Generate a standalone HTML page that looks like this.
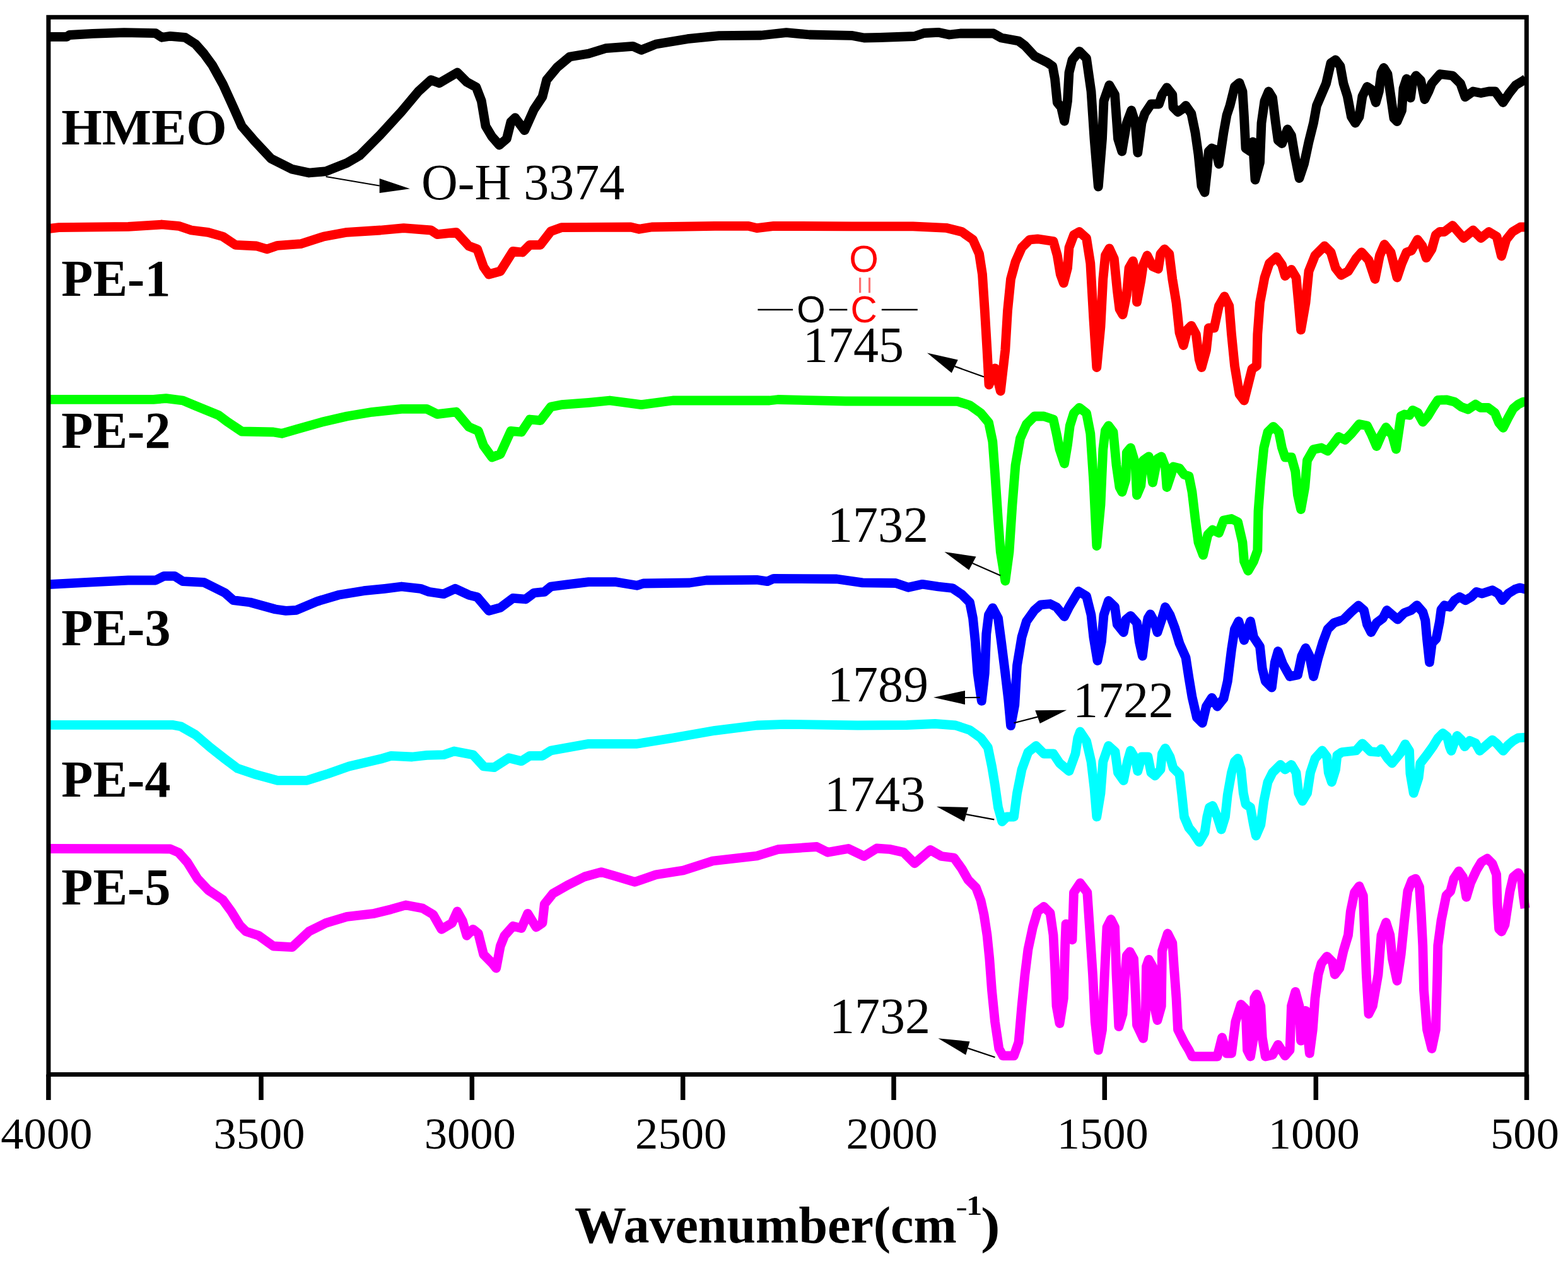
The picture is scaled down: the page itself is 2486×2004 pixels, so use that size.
<!DOCTYPE html>
<html><head><meta charset="utf-8"><title>FTIR spectra</title>
<style>
html,body{margin:0;padding:0;background:#fff;}
svg{display:block;}
text{font-family:'Liberation Serif','Times New Roman',serif;}
</style></head><body>
<svg width="2486" height="2004" viewBox="0 0 2486 2004">
<rect x="0" y="0" width="2486" height="2004" fill="#fff"/>

<g fill="none" stroke-width="14.8" stroke-linejoin="round" stroke-linecap="butt">
<polyline stroke="#000" points="77.0,58.3 106.0,58.3 110.0,55.5 146.7,53.3 196.7,51.7 246.7,52.7 256.7,59.3 270.0,57.3 293.3,59.3 310.0,70.0 323.3,85.0 336.7,103.3 353.3,133.3 370.0,170.0 383.3,200.0 403.3,223.3 430.0,251.7 463.3,268.3 490.0,274.0 516.7,271.7 550.0,258.3 570.0,246.7 603.3,213.3 636.7,176.7 663.3,145.0 683.3,126.7 696.7,131.7 725.0,115.0 740.0,130.0 755.0,138.3 763.3,160.0 770.0,200.0 780.0,216.7 791.7,230.0 803.3,220.0 810.0,193.3 816.7,186.7 831.7,206.7 846.7,173.3 860.0,153.3 866.7,126.7 883.3,106.7 903.3,90.0 933.3,85.0 960.0,76.7 1003.3,73.3 1016.7,79.3 1040.0,70.0 1090.0,61.7 1140.0,56.7 1206.7,56.0 1246.7,51.7 1283.3,55.0 1350.0,56.3 1370.0,60.0 1395.0,59.5 1450.0,57.5 1465.0,52.5 1487.5,51.3 1505.0,55.0 1522.5,53.0 1575.0,53.0 1587.5,60.0 1615.0,65.0 1625.0,72.5 1640.0,88.8 1660.0,98.8 1668.8,105.0 1672.5,125.0 1676.3,162.5 1682.5,170.0 1687.5,192.0 1692.5,160.0 1695.0,115.0 1700.0,95.0 1711.3,81.3 1722.5,92.5 1730.0,145.0 1735.0,220.0 1741.3,296.0 1747.5,220.0 1750.0,160.0 1758.8,135.0 1767.5,150.0 1772.5,220.0 1778.8,240.0 1786.3,195.0 1793.8,175.0 1800.0,195.0 1803.8,242.0 1810.0,195.0 1815.0,180.0 1825.0,165.0 1837.5,165.0 1842.5,150.0 1850.0,138.8 1858.8,150.0 1860.0,170.0 1867.5,177.5 1875.0,172.5 1880.0,167.5 1888.8,180.0 1895.0,210.0 1900.0,245.0 1905.0,295.0 1910.0,305.0 1913.8,270.0 1916.3,240.0 1921.3,235.0 1927.5,237.5 1932.5,260.0 1936.3,235.0 1940.0,210.0 1945.0,182.5 1950.0,167.5 1957.5,137.5 1965.0,131.3 1970.0,145.0 1972.5,185.0 1975.0,235.0 1982.5,240.0 1986.3,225.0 1990.0,285.0 1997.5,257.5 2000.0,195.0 2005.0,160.0 2011.3,145.0 2017.5,155.0 2022.5,195.0 2026.3,222.5 2032.5,227.5 2041.3,205.0 2047.5,215.0 2052.5,245.0 2060.0,282.5 2067.5,260.0 2075.0,225.0 2082.5,195.0 2087.5,167.5 2095.0,150.0 2102.5,132.5 2110.0,100.0 2117.5,95.0 2125.0,105.0 2130.0,132.5 2136.3,152.5 2142.5,185.0 2148.8,195.0 2155.0,185.0 2160.0,152.5 2167.5,137.5 2175.0,142.5 2181.3,162.5 2186.3,145.0 2190.0,115.0 2193.8,107.5 2200.0,117.5 2205.0,152.5 2210.0,187.5 2215.0,192.5 2222.5,175.0 2225.0,140.0 2230.0,125.0 2236.3,155.0 2240.0,127.5 2245.0,120.0 2252.5,127.5 2258.8,157.5 2265.0,145.0 2270.0,132.5 2283.0,117.5 2303.0,120.0 2315.5,132.5 2323.0,153.8 2335.5,145.0 2348.0,147.5 2360.5,145.0 2370.5,145.0 2383.0,162.5 2393.0,147.5 2403.0,135.0 2415.5,127.5 2419.0,125.0"/>
<polyline stroke="#ff0000" points="76.7,362.7 93.3,360.7 203.3,359.3 256.7,356.0 283.3,358.3 303.3,365.0 330.0,368.3 353.3,375.0 373.3,388.3 406.7,390.0 423.3,395.0 440.0,389.3 476.7,386.7 513.3,375.0 550.0,368.3 603.3,365.0 640.0,361.7 683.3,365.0 693.3,371.7 723.3,368.3 743.3,390.0 756.7,395.0 766.7,423.3 775.0,435.0 793.3,430.0 813.3,398.3 828.3,400.0 840.0,388.3 856.7,388.3 873.3,366.7 890.0,360.7 1000.0,360.0 1013.3,363.3 1033.3,360.0 1133.3,358.3 1186.7,358.3 1200.0,361.7 1226.7,358.3 1350.0,358.8 1447.5,358.8 1500.0,361.3 1525.0,367.5 1542.5,380.0 1552.5,402.5 1557.5,435.0 1561.3,492.5 1565.0,555.0 1568.0,610.0 1577.5,584.0 1586.3,620.0 1593.8,555.0 1597.5,492.5 1602.5,442.5 1610.0,415.0 1620.0,392.5 1632.5,380.0 1645.0,378.8 1670.0,382.5 1676.3,405.0 1681.3,435.0 1686.3,448.8 1692.5,425.0 1695.0,392.5 1702.5,372.5 1711.3,367.5 1722.5,377.5 1728.8,417.5 1733.8,505.0 1738.8,582.5 1745.0,517.5 1748.8,442.5 1752.5,405.0 1758.8,393.8 1766.3,410.0 1771.3,460.0 1775.0,490.0 1780.0,498.8 1786.3,467.5 1790.0,425.0 1796.3,413.8 1801.3,442.5 1802.5,478.8 1808.8,445.0 1812.5,420.0 1818.8,405.0 1827.5,422.5 1836.3,426.3 1840.0,402.5 1846.3,395.0 1853.8,402.5 1858.8,442.5 1865.0,480.0 1870.0,527.5 1876.3,547.5 1882.5,522.5 1888.8,516.3 1896.3,530.0 1901.3,570.0 1905.0,582.5 1912.5,555.0 1916.3,520.0 1925.0,520.0 1932.5,485.0 1941.3,470.0 1948.8,485.0 1952.5,530.0 1957.5,580.0 1965.0,625.0 1972.5,635.0 1980.0,605.0 1985.0,585.0 1992.5,580.0 1993.8,530.0 1997.5,480.0 2005.0,440.0 2012.5,417.5 2023.8,407.5 2032.5,420.0 2037.5,437.5 2047.5,427.5 2055.0,440.0 2058.8,480.0 2062.5,523.0 2070.0,480.0 2075.0,430.0 2085.0,405.0 2100.0,390.0 2110.0,400.0 2117.5,425.0 2126.3,436.3 2137.5,430.0 2150.0,410.0 2158.8,400.0 2170.0,412.5 2180.0,442.5 2187.5,405.0 2195.0,387.5 2205.0,400.0 2215.0,440.0 2222.5,417.5 2230.0,400.0 2237.5,397.5 2247.5,380.0 2255.0,390.0 2261.3,408.8 2270.0,395.0 2276.3,372.5 2282.5,367.5 2290.0,367.5 2303.0,357.5 2320.5,377.5 2335.5,365.0 2348.0,377.5 2360.5,367.5 2373.0,375.0 2380.5,406.0 2388.0,380.0 2398.0,367.5 2410.5,360.0 2419.0,360.0"/>
<polyline stroke="#00ff00" points="76.7,633.3 243.3,633.3 263.3,631.7 290.0,635.0 310.0,643.3 346.7,658.3 360.0,668.3 383.3,684.0 433.3,685.0 446.7,687.3 470.0,680.7 510.0,669.3 550.0,660.0 590.0,653.3 636.7,648.3 676.7,648.3 693.3,656.7 723.3,653.0 743.3,676.7 758.3,683.3 766.7,706.7 780.0,725.0 793.3,720.0 810.0,683.3 826.7,685.0 840.0,665.0 856.7,666.7 873.3,645.0 890.0,641.7 933.3,638.3 966.7,635.0 1016.7,641.7 1066.7,635.0 1220.0,635.0 1233.3,633.5 1340.0,636.0 1517.5,636.3 1537.5,642.5 1555.0,655.0 1567.5,670.0 1573.8,700.0 1577.5,750.0 1582.5,825.0 1586.3,875.0 1593.8,921.0 1600.0,875.0 1605.0,800.0 1610.0,737.5 1617.5,695.0 1627.5,672.5 1640.0,660.0 1655.0,660.0 1670.0,665.0 1675.0,687.5 1680.0,712.5 1687.5,735.0 1692.5,705.0 1696.3,675.0 1702.5,655.0 1711.3,646.3 1722.5,655.0 1728.8,687.5 1733.8,762.5 1738.8,865.5 1745.0,800.0 1748.8,712.5 1752.5,682.5 1757.5,675.0 1765.0,685.0 1770.0,737.5 1775.0,772.5 1779.0,780.0 1785.0,760.0 1786.3,717.5 1792.5,710.0 1800.0,735.0 1802.5,785.0 1808.8,770.0 1812.5,730.0 1821.3,723.8 1827.5,765.0 1835.0,727.5 1841.3,723.8 1847.5,740.0 1850.0,772.5 1857.5,750.0 1860.0,740.0 1870.0,742.5 1877.5,752.5 1885.0,755.0 1890.0,780.0 1895.0,822.5 1900.0,860.0 1907.5,880.0 1915.0,847.5 1922.5,840.0 1932.5,845.0 1940.0,825.0 1952.5,822.5 1962.5,827.5 1970.0,860.0 1972.5,890.0 1978.8,905.0 1987.5,890.0 1993.8,872.5 1995.0,810.0 1998.8,760.0 2003.8,710.0 2010.0,685.0 2018.8,676.3 2027.5,685.0 2032.5,710.0 2037.5,725.0 2047.5,725.0 2053.8,747.5 2057.5,785.0 2062.5,807.5 2068.8,772.5 2072.5,730.0 2082.5,712.5 2095.0,710.0 2105.0,715.0 2115.0,702.5 2122.5,692.5 2132.5,697.5 2142.5,687.5 2155.0,672.5 2167.5,675.0 2175.0,690.0 2182.5,707.5 2190.0,690.0 2197.5,677.5 2207.5,690.0 2213.5,712.0 2221.2,659.7 2226.6,657.0 2234.5,658.3 2239.8,650.4 2247.8,654.4 2255.8,669.0 2263.7,659.7 2271.7,646.4 2279.7,634.4 2293.0,633.8 2306.2,637.1 2316.9,645.1 2327.5,649.0 2339.4,641.1 2347.4,646.4 2359.3,646.4 2370.0,654.4 2376.6,670.3 2383.2,678.3 2391.2,662.3 2399.2,647.7 2407.1,641.1 2415.1,637.1 2419.0,637.1"/>
<polyline stroke="#0000ff" points="76.7,926.7 136.7,923.3 203.3,920.0 246.7,920.0 260.0,913.3 276.7,913.3 290.0,921.7 323.3,923.3 336.7,930.0 356.7,940.0 370.0,951.7 396.7,955.0 436.7,966.0 453.3,968.3 470.0,967.3 503.3,953.3 536.7,943.3 576.7,936.7 610.0,933.3 636.7,930.0 666.7,933.3 680.0,938.3 703.3,941.7 721.7,933.3 743.3,943.3 756.7,946.7 775.0,968.3 793.3,963.3 813.3,948.3 833.3,950.0 846.7,940.0 863.3,938.3 873.3,930.0 900.0,926.7 933.3,922.7 976.7,922.7 1010.0,928.3 1020.0,925.0 1093.3,924.0 1120.0,920.0 1200.0,919.3 1216.7,921.7 1226.7,917.3 1326.7,918.0 1367.5,923.8 1420.0,924.5 1440.0,931.3 1462.5,926.3 1487.5,930.0 1510.0,932.5 1525.0,942.5 1537.5,955.0 1542.5,980.0 1546.3,1017.5 1550.0,1067.5 1556.3,1111.3 1561.3,1067.5 1563.8,1005.0 1567.5,975.0 1573.8,963.8 1582.5,980.0 1587.5,1017.5 1593.8,1067.5 1598.8,1110.0 1602.5,1150.5 1608.8,1117.5 1612.5,1055.0 1620.0,1010.0 1627.5,985.0 1640.0,967.5 1650.0,958.8 1665.0,957.5 1675.0,962.5 1687.5,977.5 1695.0,962.5 1702.5,950.0 1710.0,937.5 1722.5,945.0 1730.0,975.0 1733.8,1010.0 1740.0,1047.5 1746.3,1017.5 1750.0,975.0 1757.5,952.5 1767.5,962.0 1771.3,990.0 1781.3,1002.5 1785.0,982.5 1792.5,976.3 1802.5,987.5 1806.3,1017.5 1811.3,1040.0 1816.3,1000.0 1820.0,980.0 1823.8,973.8 1830.0,985.0 1835.0,1002.5 1842.5,980.0 1847.5,962.5 1855.0,975.0 1862.5,995.0 1870.0,1020.0 1880.0,1042.5 1885.0,1075.0 1890.0,1105.0 1897.5,1137.5 1906.3,1146.3 1912.5,1120.0 1921.3,1106.3 1930.0,1120.0 1940.0,1107.5 1946.3,1080.0 1952.5,1030.0 1957.5,997.5 1963.8,985.0 1972.5,1015.0 1982.5,985.0 1987.5,1010.0 1997.5,1025.0 2001.3,1060.0 2006.3,1080.0 2016.3,1090.0 2021.3,1050.0 2026.3,1032.5 2033.8,1052.5 2045.0,1072.5 2057.5,1070.0 2063.8,1040.0 2070.0,1027.5 2076.3,1040.0 2082.5,1072.5 2090.0,1042.5 2097.5,1017.5 2105.0,997.5 2115.0,987.5 2130.0,982.5 2142.5,970.0 2153.8,960.0 2162.5,967.5 2167.5,990.0 2173.8,1002.5 2182.5,987.5 2192.5,980.0 2198.8,967.5 2207.5,975.0 2215.9,982.2 2226.6,971.6 2237.2,967.6 2246.5,959.7 2255.8,970.3 2259.8,983.6 2262.4,1012.8 2266.4,1050.0 2270.4,1019.4 2277.0,1012.8 2282.3,986.2 2285.0,966.3 2290.3,959.7 2298.3,962.3 2306.2,951.7 2314.2,946.4 2323.5,951.7 2332.8,946.4 2340.7,938.4 2350.0,941.1 2366.0,935.8 2375.3,941.1 2381.9,951.7 2391.2,941.1 2401.8,934.4 2409.8,931.8 2419.0,934.4"/>
<polyline stroke="#00ffff" points="76.7,1149.3 273.3,1149.3 286.7,1151.7 310.0,1165.0 333.3,1185.0 356.7,1203.3 376.7,1218.3 403.3,1227.3 440.0,1237.3 486.7,1237.3 520.0,1226.7 553.3,1215.0 603.3,1203.3 620.0,1198.3 653.3,1200.0 676.7,1197.3 703.3,1196.7 720.0,1191.0 750.0,1196.7 766.7,1215.0 783.3,1216.7 806.7,1201.7 826.7,1206.7 840.0,1198.3 860.0,1198.3 873.3,1190.0 933.3,1179.3 1010.0,1179.3 1066.7,1170.0 1133.3,1158.3 1200.0,1150.0 1243.3,1148.3 1360.0,1150.0 1437.5,1149.5 1482.5,1147.5 1515.0,1150.0 1537.5,1157.5 1555.0,1170.0 1566.3,1185.0 1572.5,1215.0 1577.5,1245.0 1582.5,1280.0 1588.8,1302.5 1596.3,1295.0 1607.5,1295.0 1612.5,1257.5 1620.0,1220.0 1630.0,1192.5 1642.5,1182.5 1655.0,1195.0 1670.0,1195.0 1680.0,1210.0 1695.0,1222.5 1705.0,1195.0 1708.8,1170.0 1712.5,1160.0 1722.5,1175.0 1730.0,1207.5 1735.0,1250.0 1738.8,1295.0 1745.0,1257.5 1748.8,1207.5 1757.5,1182.5 1768.0,1192.0 1772.5,1225.0 1781.3,1237.5 1787.5,1207.5 1792.5,1190.0 1800.0,1202.5 1803.8,1222.5 1810.0,1200.0 1820.0,1200.0 1825.0,1225.0 1831.3,1230.0 1840.0,1220.0 1842.5,1195.0 1847.5,1186.3 1855.0,1200.0 1860.0,1217.5 1870.0,1227.5 1873.8,1260.0 1877.5,1295.0 1885.0,1312.5 1891.3,1320.0 1901.3,1335.0 1910.0,1320.0 1913.8,1295.0 1917.5,1280.0 1922.5,1277.5 1930.0,1295.0 1936.3,1315.0 1942.5,1295.0 1946.3,1260.0 1952.5,1225.0 1957.5,1207.5 1962.5,1202.5 1967.5,1220.0 1971.3,1257.5 1975.0,1275.0 1982.5,1280.0 1987.5,1307.5 1991.3,1325.0 1998.8,1307.5 2003.8,1270.0 2010.0,1240.0 2017.5,1225.0 2030.0,1212.5 2037.5,1220.0 2047.5,1212.5 2055.0,1225.0 2058.8,1257.5 2065.0,1270.0 2072.5,1257.5 2077.5,1225.0 2085.0,1202.5 2096.3,1190.0 2103.8,1200.0 2106.3,1225.0 2111.3,1240.0 2117.5,1220.0 2120.0,1197.5 2127.5,1192.5 2150.0,1190.0 2160.0,1178.8 2172.5,1191.3 2185.0,1192.5 2190.0,1187.5 2200.0,1202.5 2207.0,1210.0 2219.9,1194.4 2227.9,1179.8 2234.5,1190.4 2235.9,1226.2 2241.2,1257.4 2249.1,1232.9 2251.8,1210.3 2261.1,1198.3 2271.7,1183.7 2279.7,1170.5 2287.6,1162.5 2294.3,1167.8 2298.3,1183.7 2300.9,1190.4 2306.2,1175.8 2310.2,1166.5 2316.9,1173.1 2322.2,1183.7 2330.1,1174.4 2339.4,1178.4 2346.1,1190.4 2355.4,1182.4 2366.0,1173.1 2372.6,1178.4 2383.2,1190.4 2391.2,1181.1 2399.2,1174.4 2407.1,1169.8 2419.0,1169.1"/>
<polyline stroke="#ff00ff" points="76.7,1345.5 270.0,1346.0 283.3,1351.7 296.7,1366.7 313.3,1393.3 330.0,1411.0 353.3,1426.7 366.7,1445.0 380.0,1466.7 390.0,1476.7 410.0,1483.3 433.3,1500.0 463.3,1501.7 490.0,1476.7 516.7,1463.3 550.0,1453.3 593.3,1448.3 620.0,1441.7 643.3,1435.0 670.0,1440.0 686.7,1450.0 700.0,1473.3 716.7,1463.3 725.0,1445.0 733.3,1460.0 740.0,1483.3 750.0,1473.3 758.3,1480.0 766.7,1513.3 780.0,1526.7 786.7,1535.0 793.3,1500.0 800.0,1483.3 813.3,1468.3 826.7,1471.7 836.7,1448.3 850.0,1470.0 860.0,1463.3 863.3,1433.3 876.7,1416.7 900.0,1403.3 926.7,1390.0 953.3,1382.7 973.3,1388.3 1006.7,1398.3 1040.0,1386.7 1083.3,1380.0 1130.0,1365.0 1200.0,1357.0 1233.3,1346.7 1295.0,1342.5 1312.5,1351.3 1345.0,1345.5 1370.0,1357.5 1390.0,1345.0 1410.0,1346.3 1432.5,1351.3 1450.0,1368.8 1475.0,1347.5 1492.5,1357.5 1512.5,1360.0 1525.0,1377.5 1535.0,1395.0 1547.5,1407.5 1555.0,1427.5 1560.0,1450.0 1565.0,1482.5 1568.8,1520.0 1572.5,1570.0 1577.5,1620.0 1583.8,1662.5 1590.0,1673.8 1607.5,1673.8 1615.0,1652.5 1620.0,1595.0 1625.0,1545.0 1630.0,1505.0 1637.5,1470.0 1645.0,1445.0 1655.0,1437.5 1665.0,1447.5 1670.0,1482.5 1672.5,1532.5 1675.0,1595.0 1680.0,1622.5 1686.3,1582.5 1688.8,1495.0 1690.0,1465.0 1700.0,1490.0 1702.5,1415.0 1712.5,1400.0 1723.8,1415.0 1727.5,1470.0 1732.5,1545.0 1736.3,1620.0 1741.3,1665.0 1747.5,1632.5 1751.3,1545.0 1755.0,1470.0 1761.3,1457.5 1767.5,1470.0 1770.0,1545.0 1773.8,1627.5 1780.0,1607.5 1783.8,1545.0 1786.3,1515.0 1791.3,1508.8 1797.5,1520.0 1800.0,1570.0 1802.5,1625.0 1812.5,1646.3 1816.3,1607.5 1817.5,1532.5 1821.3,1521.3 1827.5,1532.5 1830.0,1595.0 1835.0,1617.5 1841.3,1595.0 1842.5,1507.5 1851.3,1480.0 1858.8,1495.0 1861.3,1532.5 1865.0,1582.5 1867.5,1632.5 1877.5,1652.5 1885.0,1665.0 1890.0,1675.0 1930.0,1675.0 1937.5,1645.0 1945.0,1670.0 1952.5,1670.0 1958.8,1620.0 1967.5,1592.5 1975.0,1600.0 1977.5,1665.0 1982.5,1675.0 1987.5,1645.0 1988.8,1582.5 1992.5,1576.3 1998.8,1595.0 2001.3,1645.0 2006.3,1675.0 2017.5,1672.5 2026.3,1656.3 2037.5,1673.8 2045.0,1665.0 2047.5,1595.0 2053.8,1572.5 2060.0,1595.0 2062.5,1650.0 2070.0,1602.5 2073.8,1645.0 2076.3,1670.0 2081.3,1632.5 2085.0,1582.5 2090.0,1545.0 2095.0,1527.5 2103.8,1516.3 2112.5,1525.0 2116.3,1545.0 2123.8,1535.0 2130.0,1507.5 2137.5,1482.5 2141.3,1445.0 2147.5,1415.0 2155.0,1405.0 2161.3,1420.0 2163.8,1482.5 2166.3,1545.0 2170.0,1607.5 2176.3,1595.0 2185.0,1545.0 2190.0,1482.5 2197.5,1462.5 2203.8,1482.5 2207.5,1520.0 2215.0,1555.0 2221.2,1512.6 2226.6,1459.5 2231.9,1413.0 2238.5,1395.8 2244.5,1393.1 2250.5,1406.4 2253.1,1446.2 2255.8,1499.3 2257.5,1570.0 2262.5,1632.5 2270.0,1662.5 2276.3,1632.5 2278.8,1545.0 2279.7,1499.3 2285.0,1459.5 2290.3,1433.0 2293.0,1419.7 2299.6,1413.0 2304.9,1393.1 2312.9,1381.2 2319.5,1390.5 2324.8,1422.3 2331.5,1399.8 2340.8,1379.8 2348.7,1366.6 2358.0,1361.2 2366.0,1369.2 2372.6,1386.5 2374.0,1433.0 2376.6,1472.8 2380.6,1477.0 2385.9,1466.1 2389.9,1439.6 2393.9,1413.0 2399.2,1390.5 2407.1,1383.8 2412.5,1393.1 2415.1,1419.7 2418.0,1440.0"/>
</g>
<rect x="76.9" y="27.3" width="2343.4" height="1676.2" fill="none" stroke="#000" stroke-width="7"/>
<line x1="76.9" y1="1703.5" x2="76.9" y2="1744" stroke="#000" stroke-width="7.5"/>
<text transform="translate(73.9,1821) scale(1.037,1)" font-size="70" text-anchor="middle">4000</text>
<line x1="414.0" y1="1703.5" x2="414.0" y2="1744" stroke="#000" stroke-width="7.5"/>
<text transform="translate(411.0,1821) scale(1.037,1)" font-size="70" text-anchor="middle">3500</text>
<line x1="748.3" y1="1703.5" x2="748.3" y2="1744" stroke="#000" stroke-width="7.5"/>
<text transform="translate(745.3,1821) scale(1.037,1)" font-size="70" text-anchor="middle">3000</text>
<line x1="1082.7" y1="1703.5" x2="1082.7" y2="1744" stroke="#000" stroke-width="7.5"/>
<text transform="translate(1079.7,1821) scale(1.037,1)" font-size="70" text-anchor="middle">2500</text>
<line x1="1417.0" y1="1703.5" x2="1417.0" y2="1744" stroke="#000" stroke-width="7.5"/>
<text transform="translate(1414.0,1821) scale(1.037,1)" font-size="70" text-anchor="middle">2000</text>
<line x1="1751.3" y1="1703.5" x2="1751.3" y2="1744" stroke="#000" stroke-width="7.5"/>
<text transform="translate(1748.3,1821) scale(1.037,1)" font-size="70" text-anchor="middle">1500</text>
<line x1="2086.3" y1="1703.5" x2="2086.3" y2="1744" stroke="#000" stroke-width="7.5"/>
<text transform="translate(2083.3,1821) scale(1.037,1)" font-size="70" text-anchor="middle">1000</text>
<line x1="2420.5" y1="1703.5" x2="2420.5" y2="1744" stroke="#000" stroke-width="7.5"/>
<text transform="translate(2417.5,1821) scale(1.037,1)" font-size="70" text-anchor="middle">500</text>
<text transform="translate(97.3,228.5) scale(1.03,1)" font-size="80.5" font-weight="bold">HMEO</text>
<text x="97.3" y="469" font-size="82" font-weight="bold">PE-1</text>
<text x="97.3" y="710" font-size="82" font-weight="bold">PE-2</text>
<text x="97.3" y="1022.5" font-size="82" font-weight="bold">PE-3</text>
<text x="97.3" y="1263" font-size="82" font-weight="bold">PE-4</text>
<text x="97.3" y="1433.5" font-size="82" font-weight="bold">PE-5</text>
<text x="668" y="315.5" font-size="80">O-H 3374</text>
<text x="1273" y="573.8" font-size="80">1745</text>
<text x="1312" y="858.7" font-size="80">1732</text>
<text x="1312" y="1112" font-size="80">1789</text>
<text x="1701" y="1136.5" font-size="80">1722</text>
<text x="1307" y="1285.5" font-size="80">1743</text>
<text x="1315" y="1638" font-size="80">1732</text>
<line x1="516.7" y1="280" x2="601.7" y2="294.5" stroke="#000" stroke-width="2.2"/>
<polygon points="650,299.3 601.7,283 601.7,306" fill="#000"/>
<line x1="1560" y1="597.5" x2="1513.8" y2="580.9" stroke="#000" stroke-width="2.2"/>
<polygon points="1470,559.5 1518.75,570.5 1508.75,591.25" fill="#000"/>
<line x1="1586.25" y1="912.5" x2="1541.9" y2="893.1" stroke="#000" stroke-width="2.2"/>
<polygon points="1497.5,875 1547.5,882.5 1536.25,903.75" fill="#000"/>
<line x1="1553.75" y1="1105.75" x2="1530.0" y2="1106.0" stroke="#000" stroke-width="2.2"/>
<polygon points="1480,1105.75 1530,1095 1530,1117" fill="#000"/>
<line x1="1607.5" y1="1146.25" x2="1645.0" y2="1136.6" stroke="#000" stroke-width="2.2"/>
<polygon points="1691.25,1125.75 1641.25,1126.25 1648.75,1147" fill="#000"/>
<line x1="1576.3" y1="1299.3" x2="1531.9" y2="1291.2" stroke="#000" stroke-width="2.2"/>
<polygon points="1485,1278.8 1535,1280 1528.8,1302.5" fill="#000"/>
<line x1="1577.5" y1="1676.25" x2="1534.4" y2="1661.9" stroke="#000" stroke-width="2.2"/>
<polygon points="1487.5,1646.25 1537.5,1651.25 1531.25,1672.5" fill="#000"/>
<g stroke-width="2.6" stroke-linecap="butt">
<line x1="1201.4" y1="491" x2="1257.1" y2="491" stroke="#000"/>
<line x1="1314.8" y1="491" x2="1343.3" y2="491" stroke="#000"/>
<line x1="1397.8" y1="491" x2="1454.8" y2="491" stroke="#000"/>
<line x1="1363.6" y1="440.2" x2="1363.6" y2="464.3" stroke="#ff7070" stroke-width="3.2"/>
<line x1="1378.5" y1="440.2" x2="1378.5" y2="464.3" stroke="#ff7070" stroke-width="3.2"/>
</g>
<text x="1286" y="510.6" font-size="58.5" text-anchor="middle" style="font-family:'Liberation Sans',Arial,sans-serif">O</text>
<text x="1369.5" y="510.6" font-size="58.5" text-anchor="middle" fill="#ff0000" style="font-family:'Liberation Sans',Arial,sans-serif">C</text>
<text x="1369.6" y="430.6" font-size="60" text-anchor="middle" fill="#ff0000" style="font-family:'Liberation Sans',Arial,sans-serif">O</text>
<text x="911" y="1970" font-size="82" font-weight="bold">Wavenumber(cm</text>
<text transform="translate(1515.5,1927.5) scale(1.25,1)" font-size="44">-</text>
<text transform="translate(1532,1925.8) scale(1.15,1)" font-size="44" font-weight="bold">1</text>
<text transform="translate(1555,1970) scale(1.12,0.97)" font-size="82" font-weight="bold">)</text>
</svg>
</body></html>
